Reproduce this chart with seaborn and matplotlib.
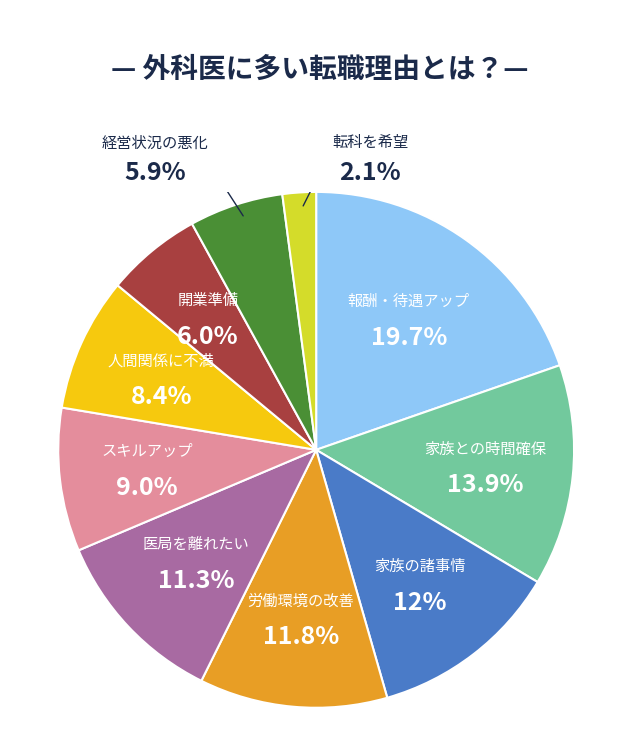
import matplotlib
matplotlib.use("Agg")
import matplotlib.pyplot as plt
import seaborn as sns
import numpy as np

sns.set_theme(style="white")
plt.rcParams['font.family'] = ['Noto Sans CJK JP', 'DejaVu Sans']

labels = ["報酬・待遇アップ", "家族との時間確保", "家族の諸事情", "労働環境の改善", "医局を離れたい",
          "スキルアップ", "人間関係に不満", "開業準備", "経営状況の悪化", "転科を希望"]
pct_text = ["19.7%", "13.9%", "12%", "11.8%", "11.3%", "9.0%", "8.4%", "6.0%", "5.9%", "2.1%"]
values = [19.7, 13.9, 12, 11.8, 11.3, 9.0, 8.4, 6.0, 5.9, 2.1]
colors = ["#8EC8F8", "#72C99D", "#4A7BC8", "#E89E25", "#A86AA2",
          "#E48D9C", "#F6C90E", "#A84040", "#4A8F35", "#D4DC2A"]

fig = plt.figure(figsize=(6.4, 7.46), dpi=100)
ax = fig.add_axes([0.494 - 0.403, 0.397 - 0.346, 0.806, 0.692])
ax.pie(values, colors=colors, startangle=90, counterclock=False,
       wedgeprops=dict(edgecolor="white", linewidth=1.5))
ax.set_xlim(-1, 1); ax.set_ylim(-1, 1)

total = sum(values)
cum = 0
rads = [0.62, 0.66, 0.66, 0.66, 0.64, 0.66, 0.66, 0.66, 0, 0]
for i, v in enumerate(values):
    mid = 90 - (cum + v / 2) / total * 360
    cum += v
    if i >= 8:
        continue
    r = rads[i]
    x, y = r * np.cos(np.radians(mid)), r * np.sin(np.radians(mid))
    ax.text(x, y + 0.07, labels[i], color="white", ha="center", va="center", fontsize=11)
    ax.text(x, y - 0.07, pct_text[i], color="white", ha="center", va="center", fontsize=18, fontweight="bold")

def px(xp, yp):
    return (xp - 316) / 258, (450 - yp) / 258

navy = "#1B2A4A"
for i, (lx, ly, lx2, ly2, lx3, ly3) in zip([8, 9], [(155, 143, 155, 173, 240, 218), (370, 143, 370, 173, 300, 208)]):
    a, b = px(lx, ly); ax.text(a, b, labels[i], color=navy, ha="center", va="center", fontsize=11)
    a, b = px(lx2, ly2); ax.text(a, b, pct_text[i], color=navy, ha="center", va="center", fontsize=18, fontweight="bold")
p0 = px(212, 168); p1 = px(243, 216)
ax.plot([p0[0], p1[0]], [p0[1], p1[1]], color=navy, lw=1)
p0 = px(322, 168); p1 = px(303, 206)
ax.plot([p0[0], p1[0]], [p0[1], p1[1]], color=navy, lw=1)

fig.text(0.5, 1 - 70 / 746, "— 外科医に多い転職理由とは？—", ha="center", va="center",
         fontsize=20, fontweight="bold", color=navy)
fig.savefig("out.png", dpi=100, facecolor="white")
